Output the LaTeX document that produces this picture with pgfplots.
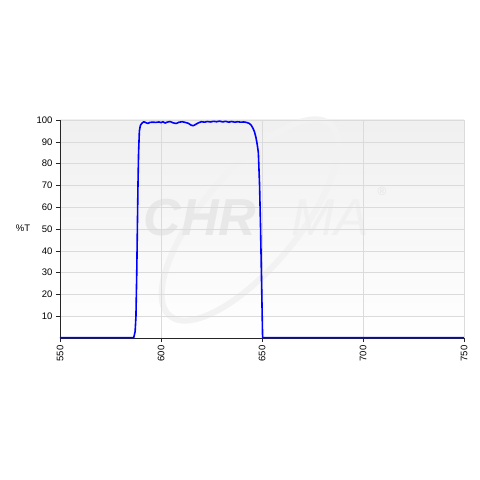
\documentclass[border=0pt]{standalone}
\usepackage{pgfplots}
\pgfplotsset{compat=1.18}
\usepackage{fontspec}
\setmainfont{Liberation Sans}
\begin{document}
\begin{tikzpicture}
\useasboundingbox (-60pt,-142pt) rectangle (420pt,338pt);
\fill[white] (-60pt,-142pt) rectangle (420pt,338pt);
% plot area background
\shade[top color=black!6, bottom color=white] (0pt,0pt) rectangle (404pt,218pt);
% watermark
\draw[black!5, line width=6pt, rotate around={50:(190pt,118pt)}] (190pt,118pt) ellipse (125pt and 48pt);
\node[black!9, font=\fontsize{52}{52}\selectfont\bfseries\itshape] at (140pt,120pt) {CHR};
\node[black!6, font=\fontsize{52}{52}\selectfont\itshape] at (270pt,120pt) {MA};
\node[black!10, font=\fontsize{12}{12}\selectfont] at (322pt,147pt) {®};
\begin{axis}[
  at={(0pt,0pt)}, anchor=south west,
  scale only axis, width=404pt, height=218pt,
  xmin=550, xmax=750, ymin=0, ymax=100,
  xtick={550,600,650,700,750},
  ytick={10,20,30,40,50,60,70,80,90,100},
  axis lines=left,
  axis line style={-, black!85, line width=0.8pt},
  tick align=outside,
  major tick length=4pt,
  tick style={black!85, line width=0.6pt},
  grid=major,
  major grid style={black!14, line width=0.6pt},
  font=\fontsize{9.5}{11}\selectfont,
  /pgf/number format/assume math mode=true,
  xticklabel style={rotate=90, anchor=east, xshift=0pt},
  x tick label style={/pgf/number format/1000 sep={}},
  ylabel={\%T},
  ylabel style={rotate=-90, at={(rel axis cs:0,0.505)}, anchor=center, xshift=-37pt},
  clip=false,
]
\addplot[blue, line width=1.6pt, line join=round] coordinates {
(550,0.2) (586.5,0.2) (587.2,3) (587.6,10) (588.0,30) (588.3,50) (588.6,70) (588.9,85) (589.3,95)
(589.8,97.5) (590.5,98.5) (591.5,99.2) (592.5,98.8) (593.5,98.4) (594.5,98.9) (596,99) (597.5,98.9)
(599,99.1) (600,98.8) (601,99.2) (602,98.6) (603,99) (604.5,99.3) (606,98.7) (607.5,98.4) (609,99)
(610.5,99.2) (612,98.9) (613.5,98.5) (615,97.6) (616,97.4) (617,97.9) (618.5,98.7) (620,99.2)
(621.5,99) (623,99.3) (624.5,99.1) (626,99.4) (627.5,99.2) (629,99.5) (630.5,99.1) (632,99.4)
(633.5,99.0) (635,99.3) (636.5,99.0) (638,99.2) (639.5,99.0) (641,99.1) (642.3,98.9) (643.5,98.5)
(644.5,97.8) (645.5,96.3) (646.3,94.5) (647,92) (647.6,89) (648.2,85) (648.8,70) (649.3,50)
(649.8,25) (650.3,0.2) (750,0.2)
};
\end{axis}
\end{tikzpicture}
\end{document}
